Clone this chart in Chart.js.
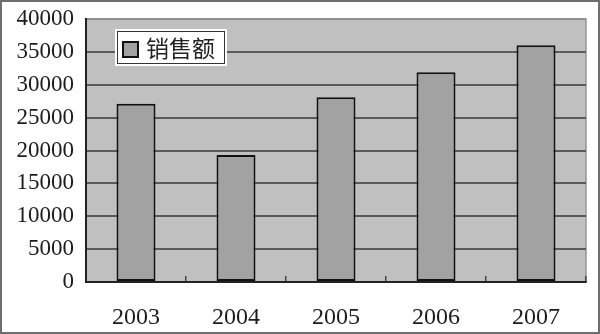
<!DOCTYPE html>
<html>
<head>
<meta charset="utf-8">
<script src="https://cdn.jsdelivr.net/npm/chart.js@4/dist/chart.umd.min.js"></script>
<style>
  html, body { margin: 0; padding: 0; background: #fff; }
  canvas { display: block; }
</style>
</head>
<body>
<canvas id="c" width="600" height="334"></canvas>
<script>
const categories = ['2003', '2004', '2005', '2006', '2007'];
const seriesName = '销售额';
const salesValues = [27100, 19300, 28100, 31900, 36000];
const yTicks = [0, 5000, 10000, 15000, 20000, 25000, 30000, 35000, 40000];

const framePlugin = {
  id: 'frame',
  beforeDraw(chart) {
    const { ctx, chartArea: a } = chart;
    ctx.save();
    ctx.fillStyle = '#ffffff';
    ctx.fillRect(0, 0, chart.width, chart.height);
    ctx.strokeStyle = '#6e6e6e';
    ctx.lineWidth = 2;
    ctx.strokeRect(1, 1, chart.width - 2, chart.height - 2);
    ctx.fillStyle = '#c0c0c0';
    ctx.fillRect(a.left, a.top, a.right - a.left, a.bottom - a.top);
    ctx.strokeStyle = '#979797';
    ctx.lineWidth = 1.5;
    ctx.strokeRect(a.left, a.top, a.right - a.left, a.bottom - a.top);
    ctx.restore();
  },
  afterDatasetsDraw(chart) {
    const { ctx, chartArea: a } = chart;
    const ds = chart.data.datasets[0];
    const x = a.left + 29, y = a.top + 10, w = 112, h = 37;
    ctx.save();
    ctx.fillStyle = '#ffffff';
    ctx.fillRect(x, y, w, h);
    ctx.strokeStyle = '#333333';
    ctx.lineWidth = 1;
    ctx.strokeRect(x + 2.5, y + 2.5, w - 5, h - 5);
    ctx.fillStyle = ds.backgroundColor;
    ctx.fillRect(x + 8, y + 13, 15, 15);
    ctx.strokeStyle = '#111111';
    ctx.lineWidth = 2;
    ctx.strokeRect(x + 8, y + 13, 15, 15);
    ctx.fillStyle = '#222222';
    ctx.font = '23px "Noto Sans CJK SC"';
    ctx.textBaseline = 'middle';
    ctx.textAlign = 'left';
    ctx.fillText(ds.label, x + 31, y + h / 2 + 1);
    ctx.restore();
  }
};

new Chart(document.getElementById('c'), {
  type: 'bar',
  data: {
    labels: categories,
    datasets: [{
      label: seriesName,
      data: salesValues,
      backgroundColor: '#a2a2a2',
      borderColor: '#111111',
      borderWidth: 2,
      borderSkipped: false,
      barPercentage: 0.39,
      categoryPercentage: 1.0
    }]
  },
  options: {
    responsive: false,
    animation: false,
    devicePixelRatio: 1,
    layout: { padding: { top: 19, right: 14, left: 0, bottom: 0 } },
    plugins: {
      legend: { display: false },
      tooltip: { enabled: false }
    },
    scales: {
      x: {
        offset: true,
        grid: {
          display: true,
          drawOnChartArea: false,
          drawTicks: true,
          tickLength: -6,
          color: '#444444',
          lineWidth: 1.5
        },
        border: { display: true, color: '#222222', width: 2 },
        ticks: {
          padding: 27,
          color: '#1c1c1c',
          font: { family: '"Liberation Serif"', size: 24 }
        },
        afterFit(s) { s.height = 52; s.paddingLeft = 0; s.paddingRight = 0; }
      },
      y: {
        min: 0,
        max: 40000,
        afterBuildTicks(s) { s.ticks = yTicks.map(v => ({ value: v })); },
        grid: {
          drawTicks: false,
          color: (c) => c.tick && c.tick.value === 40000 ? '#8f8f8f' : '#5a5a5a',
          lineWidth: 2
        },
        border: { display: true, color: '#222222', width: 2 },
        ticks: {
          padding: 12,
          color: '#1c1c1c',
          font: { family: '"Liberation Serif"', size: 23 },
          callback: (v) => String(v)
        },
        afterFit(s) { s.width = 86; s.paddingTop = 0; s.paddingBottom = 0; }
      }
    }
  },
  plugins: [framePlugin]
});
</script>
</body>
</html>
